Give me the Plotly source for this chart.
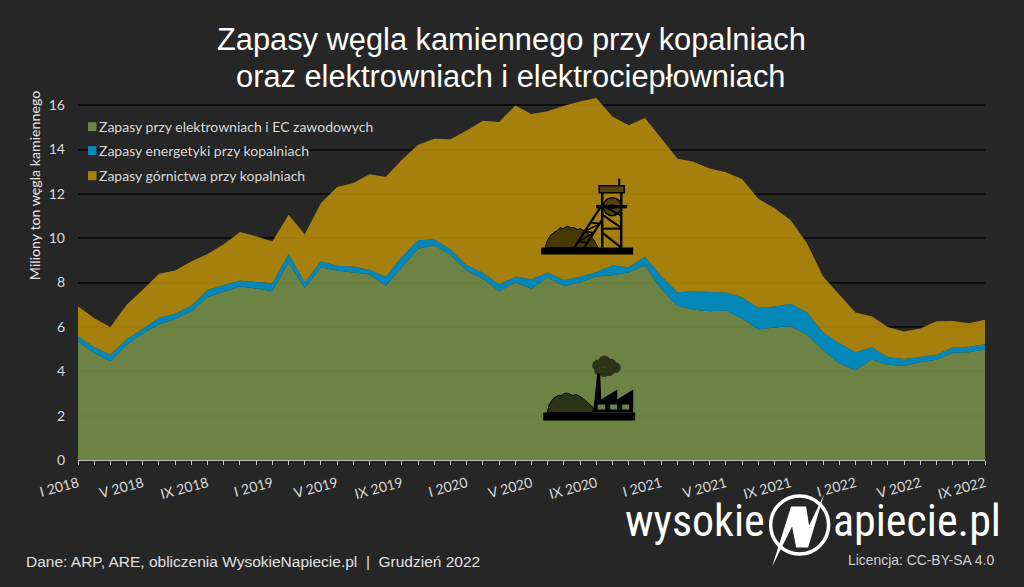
import plotly.graph_objects as go

ROMAN = ["I", "II", "III", "IV", "V", "VI", "VII", "VIII", "IX", "X", "XI", "XII"]
months = [f"{ROMAN[m]} {y}" for y in range(2018, 2023) for m in range(12)][:57]
tick_labels = [lab if i % 4 == 0 else "" for i, lab in enumerate(months)]

# Million tonnes, one value per month
power_plants = [5.35, 4.83, 4.45, 5.20, 5.69, 6.11, 6.36, 6.71, 7.35, 7.58, 7.82, 7.73, 7.61, 8.89, 7.76, 8.68, 8.54,
                8.46, 8.37, 7.86, 8.71, 9.53, 9.68, 9.26, 8.54, 8.17, 7.61, 8.01, 7.72, 8.24, 7.83, 8.01, 8.28, 8.33,
                8.46, 8.78, 7.72, 6.96, 6.77, 6.71, 6.74, 6.38, 5.89, 5.98, 6.03, 5.66, 4.95, 4.35, 4.05, 4.53, 4.29,
                4.25, 4.41, 4.52, 4.84, 4.86, 4.98]
energy_at_mines = [.23, .25, .30, .26, .22, .30, .24, .25, .33, .30, .27, .30, .36, .40, .25, .28, .22,
                   .27, .21, .40, .45, .38, .27, .23, .24, .27, .30, .25, .43, .22, .29, .25, .20, .45,
                   .23, .40, .59, .60, .84, .87, .81, .96, .97, .94, 1.02, 1.00, .81, .93, .81, .55, .36,
                   .31, .24, .23, .24, .25, .24]
mining_at_mines = [1.35, 1.31, 1.25, 1.54, 1.77, 1.99, 1.94, 1.99, 1.61, 1.85, 2.19, 2.06, 1.88, 1.77, 2.17, 2.63, 3.55,
                   3.76, 4.30, 4.50, 4.38, 4.31, 4.54, 4.97, 6.08, 6.86, 7.33, 7.73, 7.45, 7.27, 7.85, 7.91, 7.84, 6.71,
                   6.40, 6.24, 6.21, 6.03, 5.84, 5.56, 5.42, 5.33, 4.92, 4.44, 3.76, 3.13, 2.52, 2.18, 1.79, 1.40, 1.35,
                   1.24, 1.28, 1.51, 1.19, 1.06, 1.10]

SERIES = [
    ("Zapasy przy elektrowniach i EC zawodowych", power_plants, "rgba(120,145,74,0.88)", "#6E8447"),
    ("Zapasy energetyki przy kopalniach", energy_at_mines, "rgba(2,139,190,0.96)", "#0A87B5"),
    ("Zapasy górnictwa przy kopalniach", mining_at_mines, "rgba(188,143,8,0.86)", "#A67F0D"),
]

W, H = 1024, 587
L, R, T, B = 77.5, 985.0, 83.3, 460.5
LOGO_FONT = "Roboto Condensed, Liberation Sans Narrow, DejaVu Sans Condensed, Roboto, sans-serif"


def fx(x):
    return (x - L) / (R - L)


def fy(y):
    return (B - y) / (B - T)


def path(pts, close=True):
    d = "M" + " L".join(f"{fx(x):.5f},{fy(y):.5f}" for x, y in pts)
    return d + (" Z" if close else "")


def poly(pts, fill="#000000", line=None, width=0):
    return dict(type="path", xref="paper", yref="paper", path=path(pts), fillcolor=fill,
                line=dict(color=line or fill, width=width), layer="above")


def stroke(pts, width=2, color="#000000"):
    return dict(type="path", xref="paper", yref="paper", path=path(pts, close=False),
                line=dict(color=color, width=width), layer="above")


def disc(cx, cy, r, fill, line="rgba(0,0,0,0)", width=0):
    return dict(type="circle", xref="paper", yref="paper", x0=fx(cx - r), x1=fx(cx + r),
                y0=fy(cy + r), y1=fy(cy - r), fillcolor=fill, line=dict(color=line, width=width), layer="above")


def text(x, y, s, size, color="#FFFFFF", family="Liberation Sans", anchor="left", angle=0, **font):
    return dict(xref="paper", yref="paper", x=fx(x), y=fy(y), text=s, showarrow=False, xanchor=anchor,
                yanchor="middle", textangle=angle, font=dict(family=family, size=size, color=color, **font))


fig = go.Figure()
for name, values, fill, _ in SERIES:
    fig.add_trace(go.Scatter(x=months, y=values, name=name, mode="lines", stackgroup="one",
                             line=dict(width=0), fillcolor=fill, hoverinfo="skip", showlegend=False))

shapes = []

# Legend swatches
for y, (_, _, _, swatch) in zip((127, 151, 176), SERIES):
    shapes.append(dict(type="rect", xref="paper", yref="paper", x0=fx(87.5), x1=fx(96), y0=fy(y + 4.5), y1=fy(y - 4.5),
                       fillcolor=swatch, line=dict(width=0), layer="above"))

# Colliery headframe icon
heap_top = [(545, 248), (547, 241), (551, 235), (555, 232), (557, 231), (560, 228), (563, 229), (567, 226.5),
            (570, 228), (574, 228), (577, 230), (580, 229), (585, 232), (590, 236), (594, 241), (598, 248)]
shapes.append(poly(heap_top, fill="#463805", line="#000000", width=1))
shapes.append(poly([(541, 248), (633, 248), (633, 255), (541, 255)]))
shapes.append(poly([(599, 186), (624, 186), (624, 193), (599, 193)], fill="#55430A", line="#000000", width=1.5))
shapes.append(stroke([(619, 179), (619, 186)], 2))
shapes.append(disc(612, 207, 9, "#55430A", "#000000", 1.5))
shapes.append(disc(612, 207, 2.5, "#000000"))
shapes.append(stroke([(602, 193), (602, 248)], 2.5))
shapes.append(stroke([(621, 193), (621, 248)], 2.5))
shapes.append(stroke([(596, 207), (627, 207)], 3.5))
shapes.append(stroke([(602, 229), (621, 229)], 2))
shapes.append(stroke([(602, 233), (621, 248)], 2))
shapes.append(stroke([(602, 215), (621, 228)], 2))
shapes.append(stroke([(604, 207), (621, 216)], 2))
shapes.append(stroke([(574, 248), (600, 208)], 2.2))
shapes.append(stroke([(584, 248), (602, 220)], 2.2))
for (x0, y0, x1, y1) in [(578, 242, 588, 243), (584, 232, 594, 233), (590, 223, 600, 224)]:
    shapes.append(stroke([(x0, y0), (x1, y1)], 1.8))
for (x0, y0, x1, y1) in [(578, 242, 594, 233), (584, 232, 600, 224)]:
    shapes.append(stroke([(x0, y0), (x1, y1)], 1.5))

# Power plant icon
plant_heap = [(547, 413), (549, 405), (553, 399), (558, 396), (561, 396), (565, 393.5), (569, 394), (572, 396),
              (576, 395), (580, 397), (585, 401), (593, 408), (593, 413)]
shapes.append(poly(plant_heap, fill="#2C3316", line="#000000", width=1))
for cx, cy, r in [(598, 366, 6), (604, 362, 6), (610, 365, 6), (615, 368, 5.5), (609, 371, 5.5), (604, 373, 4.5),
                  (599, 371, 5)]:
    shapes.append(disc(cx, cy, r, "#2C3316"))
shapes.append(poly([(593, 413), (597, 374), (600, 374), (601, 400), (617, 390), (617, 400), (633, 390), (633, 413)]))
shapes.append(poly([(543, 413), (635, 413), (635, 421), (543, 421)]))
for x0, x1 in ((597.5, 605), (610, 617), (622, 629)):
    shapes.append(poly([(x0, 405), (x1, 405), (x1, 410), (x0, 410)], fill="#6E8447"))

# Publisher logo mark
shapes.append(disc(799.5, 525.5, 29, "rgba(0,0,0,0)", "#FFFFFF", 3.5))
shapes.append(poly([(791, 507), (806, 507), (809, 526), (824, 495), (808, 548), (796, 548), (792, 527), (772, 567)],
                   fill="#FFFFFF"))

annotations = [
    text(511, 40, "Zapasy węgla kamiennego przy kopalniach", 30.8, anchor="center"),
    text(511, 77, "oraz elektrowniach i elektrociepłowniach", 30.8, anchor="center"),
    text(34, 186, "Miliony ton węgla kamiennego", 14.2, color="#E6E6E6", family="Lato", anchor="center", angle=-90),
    text(97, 127, SERIES[0][0], 14, color="#D9D9D9", family="Lato"),
    text(97, 151, SERIES[1][0], 14, color="#D9D9D9", family="Lato"),
    text(97, 176, SERIES[2][0], 14, color="#D9D9D9", family="Lato"),
    text(23, 562, "Dane: ARP, ARE, obliczenia WysokieNapiecie.pl  |  Grudzień 2022", 15.5, color="#E0E0E0"),
    text(996, 561, "Licencja: CC-BY-SA 4.0", 13.9, color="#D0D0D0", anchor="right"),
    text(767, 522, "wysokie", 44, family=LOGO_FONT, anchor="right"),
    text(831, 522, "apiecie.pl", 44, family=LOGO_FONT),
]

fig.update_layout(
    width=W, height=H, autosize=False,
    margin=dict(l=L, r=W - R, t=T, b=H - B, pad=0),
    paper_bgcolor="#262626", plot_bgcolor="#262626",
    showlegend=False, shapes=shapes, annotations=annotations,
    xaxis=dict(type="category", categoryorder="array", categoryarray=months, range=[0, 56],
               tickmode="array", tickvals=months, ticktext=tick_labels, tickangle=-15,
               ticks="outside", ticklen=4, tickwidth=1, tickcolor="#BFBFBF",
               showline=True, linecolor="#BFBFBF", linewidth=1, showgrid=False, ticklabelstandoff=5,
               tickfont=dict(family="Lato", size=14, color="#D9D9D9")),
    yaxis=dict(range=[0, 17], tickmode="array", tickvals=list(range(0, 17, 2)),
               ticks="", showline=False, zeroline=False, showgrid=True, gridcolor="#0C0C0C", gridwidth=1.5,
               ticklabelstandoff=12,
               tickfont=dict(family="Lato", size=14, color="#D9D9D9")),
)

fig.write_html("out.html", config={"displayModeBar": False})
